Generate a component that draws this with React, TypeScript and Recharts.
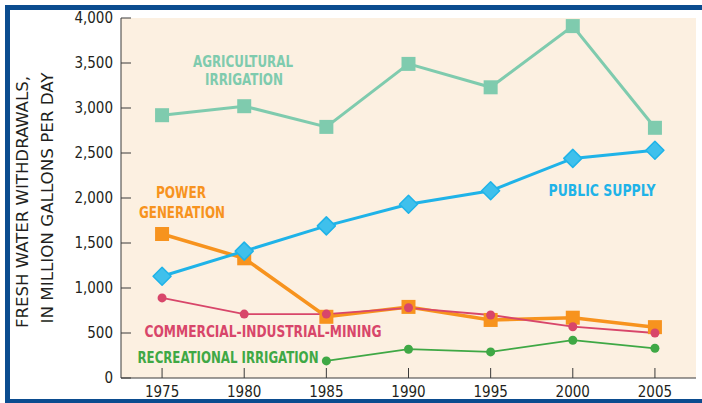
import { LineChart, Line, XAxis, YAxis, CartesianGrid } from 'recharts';

const years = [1975, 1980, 1985, 1990, 1995, 2000, 2005];
const agricultural = [2920, 3020, 2790, 3490, 3230, 3910, 2780];
const publicSupply = [1130, 1410, 1690, 1930, 2080, 2440, 2530];
const powerGeneration = [1600, 1330, 680, 790, 645, 670, 565];
const commercial = [890, 710, 710, 780, 700, 570, 500];
const recreational = [null, null, 190, 320, 290, 420, 330];
const yTicks = [0, 500, 1000, 1500, 2000, 2500, 3000, 3500, 4000];

const data = years.map((year, i) => ({
  year,
  agri: agricultural[i],
  publicSupply: publicSupply[i],
  power: powerGeneration[i],
  commercial: commercial[i],
  recreational: recreational[i],
}));

const NARROW = "'Liberation Sans Narrow', 'DejaVu Sans Condensed', 'Liberation Sans', sans-serif";
const INK = '#231f20';
const AXIS = '#3a3a3a';

const C = {
  agri: '#7fcbae',
  publicLine: '#1fb3e8',
  publicFill: '#3fc0ec',
  power: '#f7931e',
  commercial: '#d8466a',
  recreational: '#3fa845',
  plot: '#fcf0e1',
  frame: '#0b4c8f',
};

const squareDot = (color: string) => (props: any) => {
  const { cx, cy, index } = props;
  if (cx == null || cy == null) return <g key={index} />;
  return <rect key={index} x={cx - 7} y={cy - 7} width={14} height={14} fill={color} />;
};

const diamondDot = (props: any) => {
  const { cx, cy, index } = props;
  if (cx == null || cy == null) return <g key={index} />;
  const r = 9;
  return (
    <path
      key={index}
      d={`M${cx},${cy - r} L${cx + r},${cy} L${cx},${cy + r} L${cx - r},${cy} Z`}
      fill={C.publicFill}
      stroke={C.publicLine}
      strokeWidth={1.5}
      strokeLinejoin="round"
    />
  );
};

const circleDot = (color: string) => (props: any) => {
  const { cx, cy, index } = props;
  if (cx == null || cy == null) return <g key={index} />;
  return <circle key={index} cx={cx} cy={cy} r={4.5} fill={color} />;
};

// annotation text: center x, baseline y, width
const Note = ({ x, y, w, color, children }: any) => (
  <text
    x={x}
    y={y}
    textAnchor="middle"
    textLength={w}
    lengthAdjust="spacingAndGlyphs"
    fontFamily={NARROW}
    fontWeight="bold"
    fontSize={16}
    fill={color}
  >
    {children}
  </text>
);

export default function App() {
  const tickStyle = { fontSize: 15, fill: INK, fontFamily: NARROW };
  return (
    <div style={{ position: 'absolute', left: 0, top: 0, width: 702, height: 403, overflow: 'hidden', background: '#fff' }}>
      <div
        style={{
          position: 'absolute',
          left: 5,
          top: 5,
          width: 702,
          height: 399,
          border: `5px solid ${C.frame}`,
          boxSizing: 'border-box',
        }}
      />
      <div style={{ position: 'absolute', left: 0, top: 0 }}>
        <LineChart width={702} height={403} data={data} margin={{ top: 18, right: 6, bottom: 0, left: 0 }}>
          <CartesianGrid horizontal={false} vertical={false} fill={C.plot} />
          <XAxis
            dataKey="year"
            type="number"
            domain={[1972.5, 2007.5]}
            ticks={years}
            height={25}
            tickSize={-10}
            tickMargin={18}
            tick={tickStyle}
            stroke={AXIS}
            tickLine={{ stroke: AXIS }}
          />
          <XAxis
            xAxisId="top"
            orientation="top"
            dataKey="year"
            type="number"
            domain={[1972.5, 2007.5]}
            ticks={years}
            height={0}
            tickSize={-10}
            tick={false}
            stroke={AXIS}
          />
          <YAxis
            domain={[0, 4000]}
            ticks={yTicks}
            width={121}
            tickSize={-10}
            tickMargin={18}
            tick={tickStyle}
            tickFormatter={(v: number) => v.toLocaleString('en-US')}
            stroke={AXIS}
          />
          <YAxis
            yAxisId="right"
            orientation="right"
            domain={[0, 4000]}
            ticks={yTicks}
            allowDataOverflow
            width={0}
            tickSize={-10}
            tick={false}
            stroke={AXIS}
          />
          <Line dataKey="agri" stroke={C.agri} strokeWidth={3} dot={squareDot(C.agri)} isAnimationActive={false} />
          <Line dataKey="power" stroke={C.power} strokeWidth={3.5} dot={squareDot(C.power)} isAnimationActive={false} />
          <Line dataKey="publicSupply" stroke={C.publicLine} strokeWidth={3} dot={diamondDot} isAnimationActive={false} />
          <Line dataKey="commercial" stroke={C.commercial} strokeWidth={1.8} dot={circleDot(C.commercial)} isAnimationActive={false} />
          <Line dataKey="recreational" stroke={C.recreational} strokeWidth={1.8} dot={circleDot(C.recreational)} isAnimationActive={false} />
        </LineChart>
      </div>
      <svg width={702} height={403} style={{ position: 'absolute', left: 0, top: 0, pointerEvents: 'none' }}>
        <text
          transform="translate(28,202) rotate(-90)"
          textAnchor="middle"
          textLength={252}
          lengthAdjust="spacingAndGlyphs"
          fontFamily={NARROW}
          fontSize={16}
          fill={INK}
        >
          FRESH WATER WITHDRAWALS,
        </text>
        <text
          transform="translate(53,198) rotate(-90)"
          textAnchor="middle"
          textLength={251}
          lengthAdjust="spacingAndGlyphs"
          fontFamily={NARROW}
          fontSize={16}
          fill={INK}
        >
          IN MILLION GALLONS PER DAY
        </text>
        <Note x={243} y={67} w={100} color={C.agri}>AGRICULTURAL</Note>
        <Note x={244} y={85} w={78} color={C.agri}>IRRIGATION</Note>
        <Note x={181} y={198} w={50} color={C.power}>POWER</Note>
        <Note x={182} y={218} w={86} color={C.power}>GENERATION</Note>
        <Note x={602} y={196} w={107} color={C.publicLine}>PUBLIC  SUPPLY</Note>
        <Note x={263} y={337} w={237} color={C.commercial}>COMMERCIAL-INDUSTRIAL-MINING</Note>
        <Note x={228} y={363} w={181} color={C.recreational}>RECREATIONAL IRRIGATION</Note>
      </svg>
    </div>
  );
}
